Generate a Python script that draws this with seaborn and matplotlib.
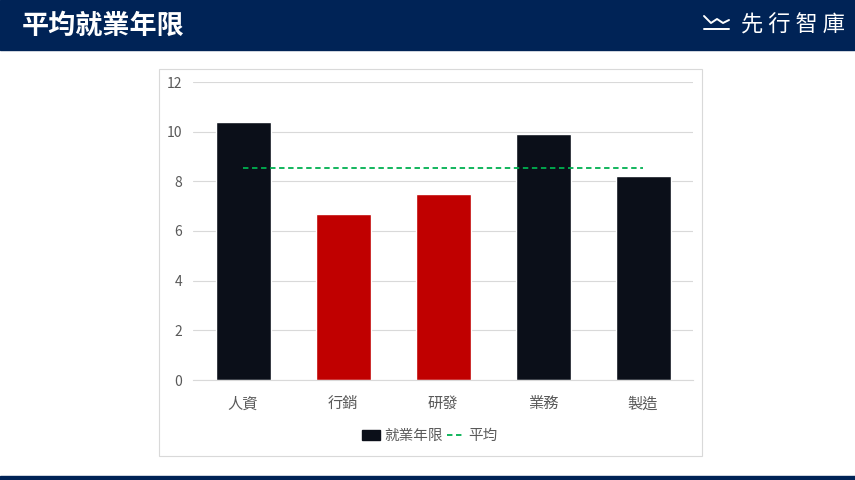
# 平均就業年限 - bar chart with average line
import numpy as np
import matplotlib.pyplot as plt
import seaborn as sns
from matplotlib.patches import Rectangle
from matplotlib.lines import Line2D

# Data
departments = ['人資', '行銷', '研發', '業務', '製造']
years = [10.4, 6.7, 7.5, 9.9, 8.2]
bar_colors = ['#0b0f19', '#c00000', '#c00000', '#0b0f19', '#0b0f19']
avg_years = np.mean(years)

sns.set_style('white')
plt.rcParams['font.family'] = ['Noto Sans CJK TC', 'DejaVu Sans']

navy = '#002356'
fig = plt.figure(figsize=(8.55, 4.8), dpi=100)

# header and footer bands
fig.patches.append(Rectangle((0, 1 - 50 / 480), 1, 50 / 480, transform=fig.transFigure,
                             color=navy, zorder=-2))
fig.patches.append(Rectangle((0, 0), 1, 4 / 480, transform=fig.transFigure,
                             color=navy, zorder=-2))
fig.text(22 / 855, 1 - 26 / 480, '平均就業年限', color='white', fontsize=19.5,
         fontweight='bold', va='center', ha='left')
fig.text(845 / 855, 1 - 25 / 480, '先 行 智 庫', color='white', fontsize=16,
         va='center', ha='right')
# small logo mark
fig.lines.append(Line2D([704 / 855, 711 / 855, 717 / 855, 723 / 855, 729 / 855],
                        [1 - 16 / 480, 1 - 23 / 480, 1 - 19 / 480, 1 - 23 / 480, 1 - 20 / 480],
                        transform=fig.transFigure, color='white', lw=1.4))
fig.lines.append(Line2D([704 / 855, 729 / 855], [1 - 29 / 480, 1 - 29 / 480],
                        transform=fig.transFigure, color='white', lw=1.4))

# chart frame
fig.patches.append(Rectangle((159 / 855, 1 - 456 / 480), 543 / 855, 387 / 480,
                             transform=fig.transFigure, facecolor='white',
                             edgecolor='#d9d9d9', lw=0.8, zorder=-1))

ax = fig.add_axes([193 / 855, 1 - 380 / 480, 500 / 855, 298 / 480])
sns.barplot(x=departments, y=years, hue=departments, palette=bar_colors,
            width=0.55, legend=False, ax=ax, saturation=1)
ax.plot(range(len(departments)), [avg_years] * len(departments),
        color='#00b050', ls=(0, (3, 2)), lw=1.3, zorder=3)

ax.set_ylim(0, 12)
ax.set_yticks(range(0, 13, 2))
ax.set_xlim(-0.5, len(departments) - 0.5)
ax.yaxis.grid(True, color='#d9d9d9', lw=0.8)
ax.set_axisbelow(True)
for s in ['top', 'right', 'left']:
    ax.spines[s].set_visible(False)
ax.spines['bottom'].set_color('#d9d9d9')
ax.tick_params(axis='y', colors='#595959', labelsize=10, length=0, pad=8)
ax.tick_params(axis='x', colors='#595959', labelsize=11, length=0, pad=11)
ax.set_xlabel('')
ax.set_ylabel('')
ax.patch.set_alpha(0)

handles = [Rectangle((0, 0), 1, 1, color='#0b0f19'),
           Line2D([0], [0], color='#00b050', ls=(0, (3, 2)), lw=1.3)]
fig.legend(handles, ['就業年限', '平均'], loc='center', bbox_to_anchor=(430 / 855, 1 - 436 / 480),
           ncol=2, frameon=False, fontsize=10.5, labelcolor='#595959',
           handlelength=1.2, handletextpad=0.3, columnspacing=0.3)

plt.savefig('out.png', dpi=100)
